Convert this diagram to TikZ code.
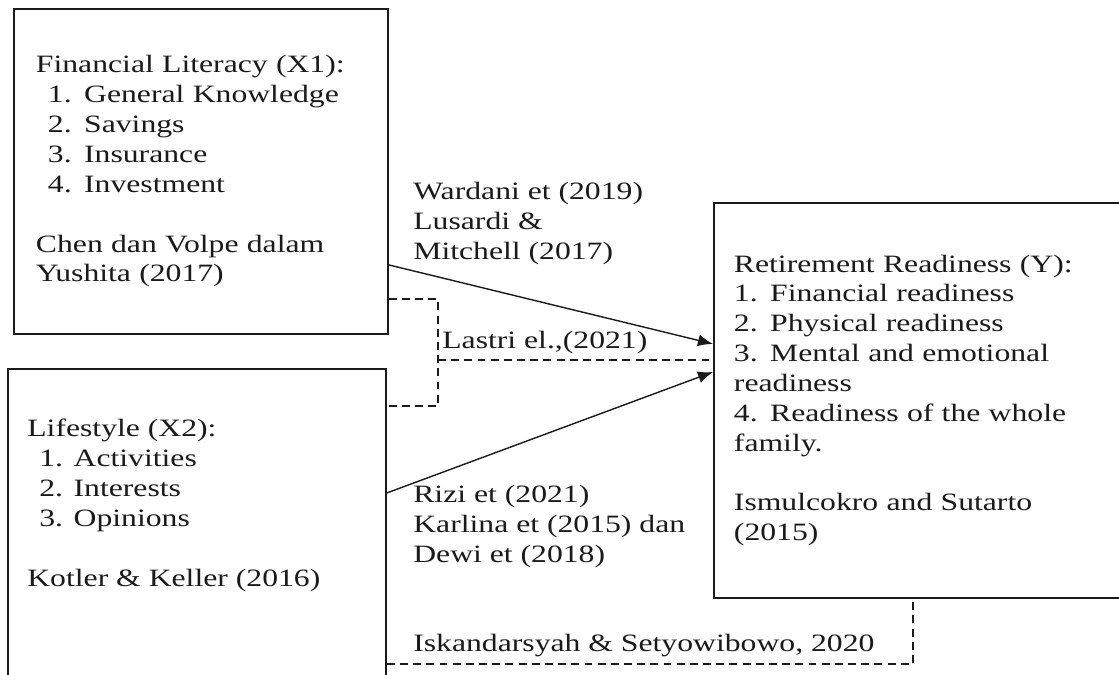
\documentclass[tikz,border=0pt]{standalone}
\usepackage{fontspec}
\setmainfont{Liberation Serif}[FakeStretch=1.27]
\usetikzlibrary{positioning,arrows.meta}
\definecolor{Tinta}{HTML}{1A1A1A}

\begin{document}
\begin{tikzpicture}[
    x=0.02cm, y=-0.02cm,
    every node/.style={font=\fontsize{14.2pt}{17pt}\selectfont,align=left,inner sep=0pt,text=Tinta,
      execute at begin node=\strut,execute at end node=\strut},
    box/.style={draw=Tinta,line width=1.1pt,anchor=north west},
    cite/.style={anchor=north west},
    link/.style={draw=Tinta,line width=0.8pt,-{Latex[length=3mm,width=2.4mm]}},
    dashlink/.style={draw=Tinta,line width=0.9pt,dash pattern=on 4.5pt off 3pt}
  ]
    \useasboundingbox (0,0) rectangle (1119,674);
    \clip (0,0) rectangle (1119,674);
    \node[box,minimum width=7.48cm,minimum height=6.5cm,text width=6.6cm] (literacy) at (13,8)
      {Financial Literacy (X1):\\\hspace*{0.24cm}1. General Knowledge\\\hspace*{0.24cm}2. Savings\\\hspace*{0.24cm}3. Insurance\\\hspace*{0.24cm}4. Investment\\[17pt]Chen dan Volpe dalam\\Yushita (2017)};
    \node[box,minimum width=7.56cm,minimum height=6.64cm] (lifestyle) at (7,368) {};
    \node[below right=1.02cm and 0.4cm of lifestyle.north west] (lifestyletext)
      {Lifestyle (X2):\\\hspace*{0.24cm}1. Activities\\\hspace*{0.24cm}2. Interests\\\hspace*{0.24cm}3. Opinions\\[17pt]Kotler \& Keller (2016)};
    \node[box,minimum width=8.74cm,minimum height=7.9cm,text width=7.94cm] (ready) at (713,202)
      {Retirement Readiness (Y):\\1. Financial readiness\\2. Physical readiness\\3. Mental and emotional\\readiness\\4. Readiness of the whole\\family.\\[17pt]Ismulcokro and Sutarto\\(2015)};
    % references on the paths
    \node[cite] (citeone) at (413,182) {Wardani et (2019)\\Lusardi \&\\Mitchell (2017)};
    \node[cite] (citetwo) at (442,327) {Lastri el.,(2021)};
    \node[cite] (citethree) at (413,485) {Rizi et (2021)\\Karlina et (2015) dan\\Dewi et (2018)};
    \node[cite] (citefour) at (413,630) {Iskandarsyah \& Setyowibowo, 2020};
    \coordinate (split) at (438,360);
    \draw[link] ([yshift=-1.87cm]literacy.east) -- ([yshift=1.13cm]ready.west);
    \draw[link] ([yshift=0.84cm]lifestyle.east) -- ([yshift=0.57cm]ready.west);
    \draw[dashlink] ([yshift=-2.55cm]literacy.east) -| (split) |- ([yshift=2.58cm]lifestyle.east);
    \draw[dashlink] (split) -- (split -| ready.west);
    \draw[dashlink] ([yshift=-2.58cm]lifestyle.east) -| ([xshift=-0.39cm]ready.south);
\end{tikzpicture}
\end{document}
